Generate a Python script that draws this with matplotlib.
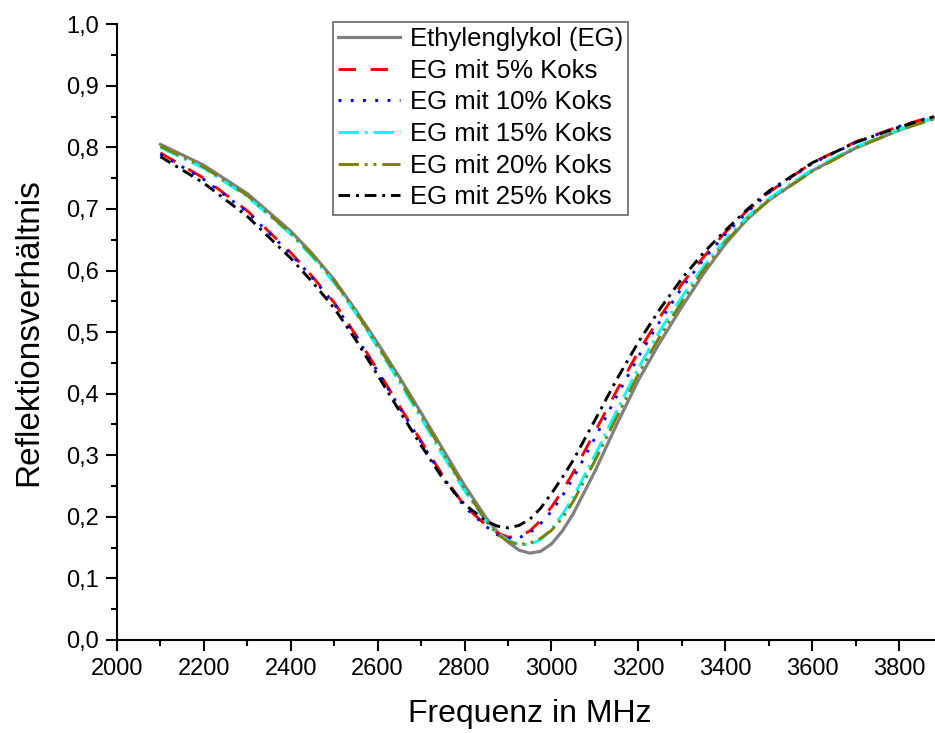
import matplotlib
matplotlib.use("Agg")
import matplotlib.pyplot as plt
from matplotlib.ticker import MultipleLocator, FuncFormatter

plt.rcParams['font.family'] = ['Liberation Sans', 'DejaVu Sans']

# frequency grid (MHz) and reflection ratios
freq = [2100, 2200, 2300, 2400, 2450, 2500, 2550, 2600, 2650, 2700, 2750, 2800,
        2850, 2875, 2900, 2925, 2950, 2975, 3000, 3025, 3050, 3100, 3150, 3200,
        3250, 3300, 3350, 3400, 3450, 3500, 3600, 3700, 3800, 3880]

eg = [0.805, 0.771, 0.725, 0.664, 0.627, 0.585, 0.535, 0.482, 0.427, 0.369, 0.310, 0.251,
      0.198, 0.176, 0.159, 0.146, 0.141, 0.144, 0.156, 0.177, 0.205, 0.274, 0.350, 0.422,
      0.484, 0.541, 0.595, 0.643, 0.683, 0.714, 0.762, 0.799, 0.828, 0.848]
eg5 = [0.791, 0.750, 0.697, 0.629, 0.590, 0.548, 0.495, 0.438, 0.380, 0.323, 0.267, 0.218,
       0.186, 0.174, 0.167, 0.168, 0.177, 0.194, 0.216, 0.242, 0.272, 0.338, 0.405, 0.468,
       0.525, 0.578, 0.622, 0.662, 0.697, 0.727, 0.775, 0.809, 0.834, 0.851]
eg10 = [0.789, 0.748, 0.695, 0.627, 0.588, 0.546, 0.493, 0.436, 0.378, 0.321, 0.265, 0.216,
        0.184, 0.171, 0.165, 0.166, 0.174, 0.189, 0.209, 0.234, 0.263, 0.328, 0.396, 0.460,
        0.518, 0.572, 0.618, 0.659, 0.695, 0.726, 0.774, 0.808, 0.834, 0.850]
eg15 = [0.800, 0.766, 0.720, 0.659, 0.622, 0.580, 0.530, 0.475, 0.419, 0.360, 0.300, 0.242,
        0.192, 0.174, 0.162, 0.155, 0.155, 0.163, 0.180, 0.204, 0.232, 0.300, 0.372, 0.442,
        0.503, 0.557, 0.607, 0.650, 0.687, 0.717, 0.764, 0.801, 0.829, 0.848]
eg20 = [0.802, 0.768, 0.722, 0.661, 0.625, 0.583, 0.533, 0.478, 0.423, 0.365, 0.305, 0.246,
        0.193, 0.172, 0.160, 0.155, 0.157, 0.165, 0.178, 0.198, 0.225, 0.291, 0.362, 0.432,
        0.494, 0.549, 0.601, 0.646, 0.684, 0.714, 0.761, 0.799, 0.828, 0.846]
eg25 = [0.785, 0.742, 0.688, 0.620, 0.581, 0.539, 0.487, 0.430, 0.372, 0.316, 0.262, 0.220,
        0.193, 0.185, 0.182, 0.186, 0.196, 0.214, 0.238, 0.264, 0.292, 0.357, 0.423, 0.484,
        0.538, 0.587, 0.629, 0.665, 0.699, 0.729, 0.775, 0.808, 0.833, 0.850]

labels = ["Ethylenglykol (EG)", "EG mit 5% Koks", "EG mit 10% Koks",
          "EG mit 15% Koks", "EG mit 20% Koks", "EG mit 25% Koks"]

fig = plt.figure(figsize=(9.35, 7.33), dpi=100)
ax = fig.add_axes([0.1251, 0.1269, 0.883, 0.840])

ax.plot(freq, eg, color='#808080', lw=2.3, label=labels[0])
ax.plot(freq, eg5, color='#ff0000', lw=2.1, dashes=(6, 5), label=labels[1])
ax.plot(freq, eg10, color='#0000ff', lw=2.1, dashes=(1, 3.2), label=labels[2])
ax.plot(freq, eg15, color='#00ffff', lw=2.1, dashes=(7, 2, 1, 2), label=labels[3])
ax.plot(freq, eg20, color='#808000', lw=2.1, dashes=(7, 2, 1, 2, 1, 2), label=labels[4])
ax.plot(freq, eg25, color='black', lw=2.1, dashes=(4, 2, 1, 2), label=labels[5])

ax.set_xlim(2000, 3900)
ax.set_ylim(0, 1.0)
ax.xaxis.set_major_locator(MultipleLocator(200))
ax.xaxis.set_minor_locator(MultipleLocator(100))
ax.yaxis.set_major_locator(MultipleLocator(0.1))
ax.yaxis.set_minor_locator(MultipleLocator(0.05))
ax.yaxis.set_major_formatter(FuncFormatter(lambda v, p: f"{v:.1f}".replace('.', ',')))

for s in ['top', 'right']:
    ax.spines[s].set_visible(False)
for s in ['left', 'bottom']:
    ax.spines[s].set_linewidth(1.5)
ax.tick_params(which='major', direction='out', length=8, width=1.5, labelsize=17, pad=5)
ax.tick_params(which='minor', direction='out', length=4, width=1.5)

ax.set_xlabel("Frequenz in MHz", fontsize=23, labelpad=14)
ax.set_ylabel("Reflektionsverhältnis", fontsize=24, labelpad=16)

leg = ax.legend(loc='upper left', bbox_to_anchor=(0.2616, 1.004), borderaxespad=0,
                fontsize=18.5, frameon=True, fancybox=False, labelspacing=0.3,
                handlelength=2.4, handletextpad=0.4, borderpad=0.2)
leg.get_frame().set_edgecolor('#404040')
leg.get_frame().set_linewidth(1.2)

fig.savefig("out.png", dpi=100)
